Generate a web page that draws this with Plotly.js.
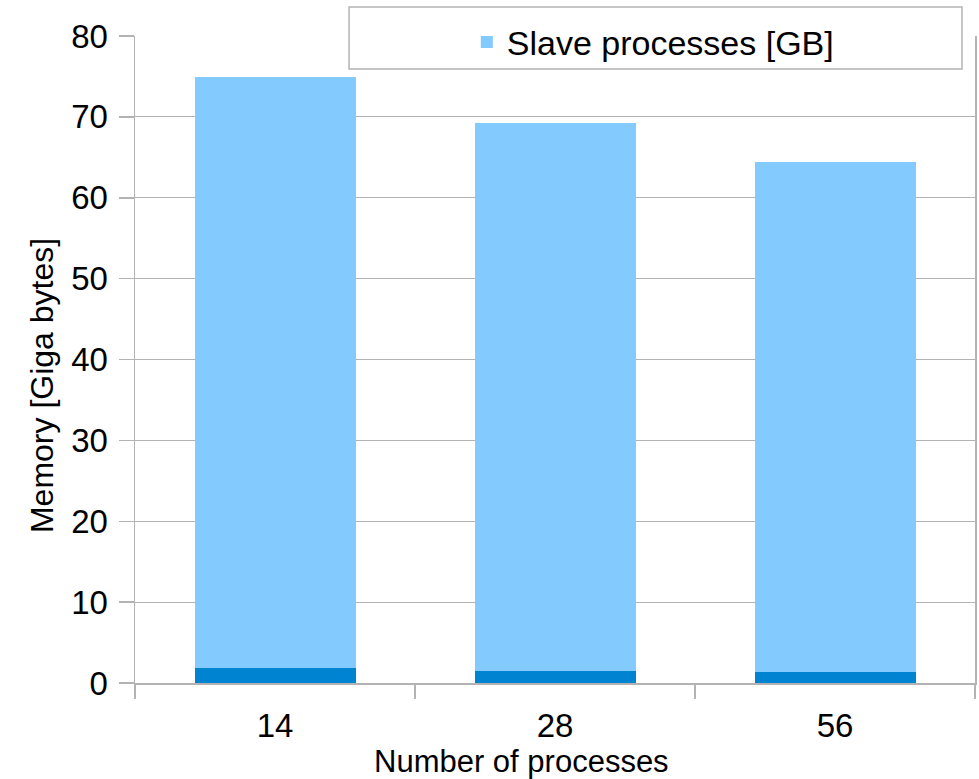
<!DOCTYPE html>
<html>
<head>
<meta charset="utf-8">
<script src="https://cdn.plot.ly/plotly-3.0.1.min.js"></script>
<style>
  html, body { margin: 0; padding: 0; background: #ffffff; }
  #chart { width: 979px; height: 779px; }
</style>
</head>
<body>
<div id="chart"></div>
<script>
// Memory use per run, split into master and slave processes (GB)
const processCounts = ['14', '28', '56'];
const masterMemory = [1.85, 1.48, 1.36];
const slaveMemory = [73.05, 67.82, 63.04];
const yTickValues = [0, 10, 20, 30, 40, 50, 60, 70, 80];

const gridGray = '#b3b3b3';
const fontFamily = '"Liberation Sans", Arial, sans-serif';

const traces = [
  {
    type: 'bar',
    name: 'Master process [GB]',
    x: processCounts,
    y: masterMemory,
    marker: { color: '#0084d1' },
    showlegend: false,
    hoverinfo: 'skip'
  },
  {
    type: 'bar',
    name: 'Slave processes [GB]',
    x: processCounts,
    y: slaveMemory,
    marker: { color: '#83caff' },
    hoverinfo: 'skip'
  }
];

const layout = {
  width: 979,
  height: 779,
  margin: { l: 135, r: 4, t: 36, b: 96 },
  paper_bgcolor: '#ffffff',
  plot_bgcolor: '#ffffff',
  font: { family: fontFamily, color: '#000000', size: 33 },
  barmode: 'stack',
  bargap: 0.425,
  showlegend: true,
  legend: {
    x: 0.395,
    xanchor: 'left',
    y: 0.99,
    yanchor: 'middle',
    bgcolor: 'rgba(0,0,0,0)',
    borderwidth: 0,
    font: { family: fontFamily, size: 34, color: '#000000' }
  },
  xaxis: {
    type: 'category',
    showgrid: false,
    showline: true,
    linecolor: gridGray,
    linewidth: 1.5,
    ticks: 'outside',
    tickson: 'boundaries',
    ticklen: 14,
    tickwidth: 1.5,
    tickcolor: gridGray,
    ticklabelstandoff: 13,
    tickfont: { size: 33 },
    zeroline: false,
    fixedrange: true
  },
  yaxis: {
    range: [0, 80],
    tickvals: yTickValues,
    showgrid: true,
    gridcolor: gridGray,
    gridwidth: 1,
    showline: true,
    mirror: true,
    linecolor: gridGray,
    linewidth: 1.5,
    ticks: 'outside',
    ticklen: 15,
    tickwidth: 1.5,
    tickcolor: gridGray,
    ticklabelstandoff: 4,
    tickfont: { size: 33 },
    zeroline: false,
    fixedrange: true
  },
  shapes: [
    {
      type: 'rect',
      xref: 'paper', yref: 'paper',
      x0: 0.2548, x1: 0.9845, y0: 0.949, y1: 1.0448,
      fillcolor: '#ffffff',
      line: { color: gridGray, width: 1.5 },
      layer: 'above'
    }
  ],
  annotations: [
    {
      text: 'Number of processes',
      xref: 'paper', yref: 'paper',
      x: 0.4607, y: -0.121,
      xanchor: 'center', yanchor: 'middle',
      borderpad: 0,
      showarrow: false,
      font: { family: fontFamily, size: 31, color: '#000000' }
    },
    {
      text: 'Memory [Giga bytes]',
      textangle: -90,
      xref: 'paper', yref: 'paper',
      x: -0.1107, y: 0.459,
      xanchor: 'center', yanchor: 'middle',
      showarrow: false,
      font: { family: fontFamily, size: 32, color: '#000000' }
    }
  ]
};

Plotly.newPlot('chart', traces, layout, { staticPlot: true, displayModeBar: false });
</script>
</body>
</html>
